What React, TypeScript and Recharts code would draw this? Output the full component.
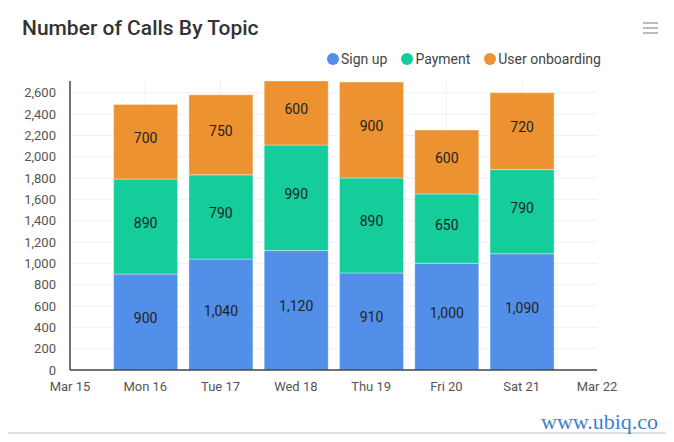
import React from "react";
import { BarChart, Bar, XAxis, YAxis, CartesianGrid, LabelList } from "recharts";

const dayNums = [16, 17, 18, 19, 20, 21];
const tickLabels: Record<number, string> = {
  15: "Mar 15", 16: "Mon 16", 17: "Tue 17", 18: "Wed 18", 19: "Thu 19", 20: "Fri 20", 21: "Sat 21", 22: "Mar 22",
};
const signUp = [900, 1040, 1120, 910, 1000, 1090];
const payment = [890, 790, 990, 890, 650, 790];
const onboarding = [700, 750, 600, 900, 600, 720];
const yTicks = [0, 200, 400, 600, 800, 1000, 1200, 1400, 1600, 1800, 2000, 2200, 2400, 2600];
const xTicks = [15, 16, 17, 18, 19, 20, 21, 22];

const data = dayNums.map((d, i) => ({ day: d, signUp: signUp[i], payment: payment[i], onboarding: onboarding[i] }));

const series = [
  { key: "signUp", name: "Sign up", color: "#528FE8" },
  { key: "payment", name: "Payment", color: "#14CD9A" },
  { key: "onboarding", name: "User onboarding", color: "#EC9231" },
];

const fmt = (v: any) => Number(v).toLocaleString("en-US");

export default function App() {
  return (
    <div style={{ position: "relative", margin: -8, width: 674, height: 442, background: "#f1f1f3", overflow: "hidden" }}>
      <div style={{ position: "absolute", left: 4, top: 6, width: 664, height: 427, background: "#fff", border: "1px solid #e0e0e0", borderRadius: 3, boxShadow: "0 1px 2px rgba(0,0,0,0.1)", boxSizing: "border-box" }} />
      <div style={{ position: "absolute", left: 22, top: 16, fontFamily: "Roboto", fontWeight: 500, fontSize: 21, color: "#333" }}>
        Number of Calls By Topic
      </div>
      <div style={{ position: "absolute", left: 643, top: 22, width: 15 }}>
        {[0, 1, 2].map((i) => (
          <div key={i} style={{ height: 2, background: "#bbb", marginBottom: 3 }} />
        ))}
      </div>
      <div style={{ position: "absolute", left: 327, top: 51, display: "flex", fontFamily: "Roboto", fontSize: 14, color: "#444" }}>
        {series.map((s) => (
          <div key={s.key} style={{ display: "flex", alignItems: "center", marginRight: 14 }}>
            <span style={{ width: 12, height: 12, borderRadius: 6, background: s.color, display: "inline-block", marginRight: 2 }} />
            <span>{s.name}</span>
          </div>
        ))}
      </div>
      <div style={{ position: "absolute", left: 0, top: 0 }}>
        <BarChart width={674} height={442} data={data} margin={{ top: 81, right: 77, bottom: 42, left: 10 }}>
          <CartesianGrid stroke="#f0f0f0" horizontalValues={yTicks.slice(1)} verticalValues={dayNums} />
          <XAxis
            dataKey="day"
            type="number"
            domain={[15, 22]}
            ticks={xTicks}
            tickFormatter={(v: number) => tickLabels[v]}
            tick={{ fontFamily: "Roboto", fontSize: 13, fill: "#555" }}
            axisLine={{ stroke: "#444", strokeWidth: 1.5 }}
            tickLine={false}
            tickMargin={6}
          />
          <YAxis
            type="number"
            domain={[0, 2700]}
            ticks={yTicks}
            tickFormatter={fmt}
            width={60}
            tick={{ fontFamily: "Roboto", fontSize: 13, fill: "#555" }}
            axisLine={{ stroke: "#444", strokeWidth: 1.5 }}
            tickLine={false}
            tickMargin={8}
            interval={0}
          />
          {series.map((s) => (
            <Bar key={s.key} dataKey={s.key} name={s.name} stackId="a" fill={s.color} barSize={64} isAnimationActive={false} stroke="rgba(255,255,255,0.35)" strokeWidth={1}>
              <LabelList dataKey={s.key} position="center" formatter={fmt} dy={-4} style={{ fontFamily: "Roboto", fontSize: 14, fill: "#222" }} />
            </Bar>
          ))}
        </BarChart>
      </div>
      <div style={{ position: "absolute", left: 541, top: 409, fontFamily: "Liberation Serif", fontSize: 22, color: "#3f7fd0", whiteSpace: "nowrap" }}>
        www.ubiq.co
      </div>
    </div>
  );
}
